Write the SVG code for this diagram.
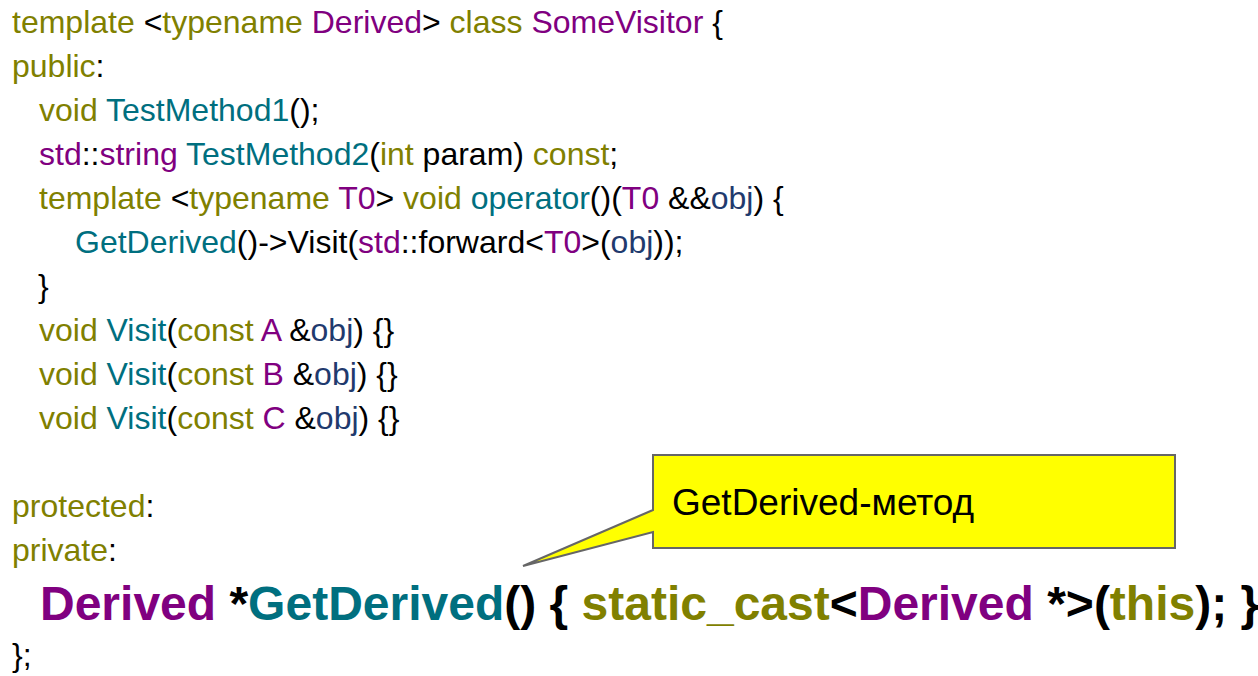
<svg xmlns="http://www.w3.org/2000/svg" width="1258" height="676" viewBox="0 0 1258 676">
<style>
.code{font-family:"Liberation Sans",Arial,sans-serif;font-size:32px;fill:#000}
.big{font-family:"Liberation Sans",Arial,sans-serif;font-size:48px;font-weight:bold;fill:#000}
.k{fill:#808000}
.p{fill:#800080}
.f{fill:#006f7f}
.v{fill:#1f3a6e}
.note{font-family:"Liberation Sans",Arial,sans-serif;font-size:37px;fill:#000}
</style>
<rect width="1258" height="676" fill="#fff"/>
<g id="code">
<text class="code" x="12" y="33" xml:space="preserve"><tspan class="k">template</tspan> &lt;<tspan class="k">typename</tspan> <tspan class="p">Derived</tspan>&gt; <tspan class="k">class</tspan> <tspan class="p">SomeVisitor</tspan> {</text>
<text class="code" x="12" y="77"><tspan class="k">public</tspan>:</text>
<text class="code" x="39" y="121" xml:space="preserve"><tspan class="k">void</tspan> <tspan class="f">TestMethod1</tspan>();</text>
<text class="code" x="39" y="165" xml:space="preserve"><tspan class="p">std</tspan>::<tspan class="p">string</tspan> <tspan class="f">TestMethod2</tspan>(<tspan class="k">int</tspan> param) <tspan class="k">const</tspan>;</text>
<text class="code" x="39" y="209" xml:space="preserve"><tspan class="k">template</tspan> &lt;<tspan class="k">typename</tspan> <tspan class="p">T0</tspan>&gt; <tspan class="k">void</tspan> <tspan class="f">operator</tspan>()(<tspan class="p">T0</tspan> &amp;&amp;<tspan class="v">obj</tspan>) {</text>
<text class="code" x="75" y="253" xml:space="preserve"><tspan class="f">GetDerived</tspan>()-&gt;Visit(<tspan class="p">std</tspan>::forward&lt;<tspan class="p">T0</tspan>&gt;(<tspan class="v">obj</tspan>));</text>
<text class="code" x="38" y="297">}</text>
<text class="code" x="39" y="341" xml:space="preserve"><tspan class="k">void</tspan> <tspan class="f">Visit</tspan>(<tspan class="k">const</tspan> <tspan class="p">A</tspan> &amp;<tspan class="v">obj</tspan>) {}</text>
<text class="code" x="39" y="385" xml:space="preserve"><tspan class="k">void</tspan> <tspan class="f">Visit</tspan>(<tspan class="k">const</tspan> <tspan class="p">B</tspan> &amp;<tspan class="v">obj</tspan>) {}</text>
<text class="code" x="39" y="429" xml:space="preserve"><tspan class="k">void</tspan> <tspan class="f">Visit</tspan>(<tspan class="k">const</tspan> <tspan class="p">C</tspan> &amp;<tspan class="v">obj</tspan>) {}</text>
<text class="code" x="12" y="517"><tspan class="k">protected</tspan>:</text>
<text class="code" x="12" y="561"><tspan class="k">private</tspan>:</text>
<text class="big" x="40" y="620" xml:space="preserve"><tspan class="p">Derived</tspan> *<tspan class="f">GetDerived</tspan>() { <tspan class="k">static_cast</tspan>&lt;<tspan class="p">Derived</tspan> *&gt;(<tspan class="k">this</tspan>); }</text>
<text class="code" x="12" y="666">};</text>
</g>
<g id="callout">
<path d="M653,455 H1175 V548 H653 V532 L523,566 L653,510 Z" fill="#ffff00" stroke="#666" stroke-width="2" stroke-linejoin="miter"/>
<text class="note" x="672" y="515">GetDerived-метод</text>
</g>
</svg>
